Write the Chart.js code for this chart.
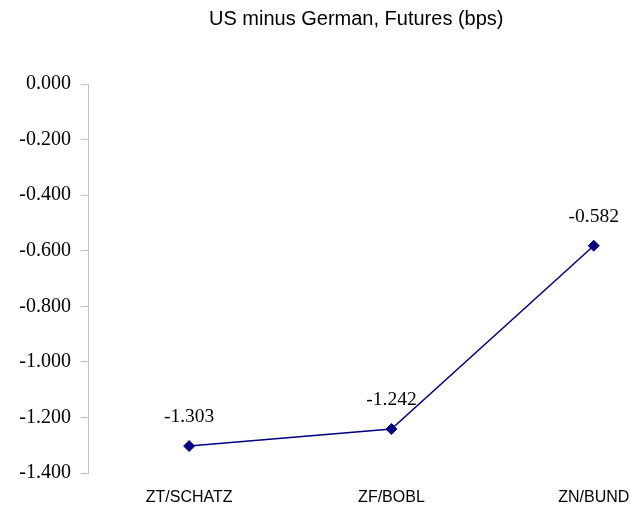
<!DOCTYPE html>
<html>
<head>
<meta charset="utf-8">
<script src="https://cdn.jsdelivr.net/npm/chart.js@4/dist/chart.umd.min.js"></script>
<style>
html,body{margin:0;padding:0;background:#fff;overflow:hidden;}
#wrap{width:631px;height:508px;}
</style>
</head>
<body>
<div id="wrap"><canvas id="c" width="631" height="508"></canvas></div>
<script>
const categories = ["ZT/SCHATZ", "ZF/BOBL", "ZN/BUND"];
const spreadValues = [-1.303, -1.242, -0.582];
const yTicks = [0, -0.2, -0.4, -0.6, -0.8, -1.0, -1.2, -1.4];
const chartTitle = "US minus German, Futures (bps)";

const serif = "'Liberation Serif', 'Times New Roman', serif";
const sans = "'Liberation Sans', Arial, sans-serif";

const dataLabels = {
  id: 'dataLabels',
  afterDatasetsDraw(chart) {
    const ctx = chart.ctx;
    const meta = chart.getDatasetMeta(0);
    ctx.save();
    ctx.font = "19.5px " + serif;
    ctx.fillStyle = "#000";
    ctx.textAlign = "center";
    ctx.textBaseline = "middle";
    meta.data.forEach((pt, i) => {
      ctx.fillText(spreadValues[i].toFixed(3), pt.x, pt.y - 29);
    });
    ctx.restore();
  }
};

new Chart(document.getElementById('c'), {
  type: 'line',
  data: {
    datasets: [{
      data: spreadValues.map((v, i) => ({x: i, y: v})),
      borderColor: '#000080',
      backgroundColor: '#000080',
      borderWidth: 1.5,
      pointStyle: 'rectRot',
      pointRadius: 5.5,
      pointBackgroundColor: '#000080',
      pointBorderColor: '#000080',
      pointBorderWidth: 1,
      tension: 0,
      fill: false
    }]
  },
  options: {
    responsive: false,
    animation: false,
    layout: {padding: 0},
    plugins: {
      legend: {display: false},
      tooltip: {enabled: false},
      title: {
        display: true,
        text: chartTitle,
        fullSize: false,
        color: '#000',
        font: {family: sans, size: 20, weight: 'normal', lineHeight: 1.2},
        padding: {top: 7, bottom: 53}
      }
    },
    scales: {
      x: {
        type: 'linear',
        min: -0.5,
        max: 2.152,
        afterBuildTicks(scale) {
          scale.ticks = categories.map((c, i) => ({value: i}));
        },
        afterFit(scale) {
          scale.height = 35;
          scale.paddingLeft = 0;
          scale.paddingRight = 0;
        },
        grid: {display: false, drawTicks: false},
        border: {display: false},
        ticks: {
          autoSkip: false,
          maxRotation: 0,
          padding: 15,
          color: '#000',
          font: {family: sans, size: 16},
          callback: (v) => categories[Math.round(v)]
        }
      },
      y: {
        type: 'linear',
        min: -1.4,
        max: 0,
        afterBuildTicks(scale) {
          scale.ticks = yTicks.map(v => ({value: v}));
        },
        afterFit(scale) {
          scale.width = 88;
        },
        grid: {drawOnChartArea: false, drawTicks: true, tickLength: 7, color: '#c0c0c0', lineWidth: 1},
        border: {display: true, color: '#c0c0c0', width: 1},
        ticks: {
          padding: 10,
          color: '#000',
          font: {family: serif, size: 20},
          callback: (v) => Number(v).toFixed(3)
        }
      }
    }
  },
  plugins: [dataLabels]
});
</script>
</body>
</html>
